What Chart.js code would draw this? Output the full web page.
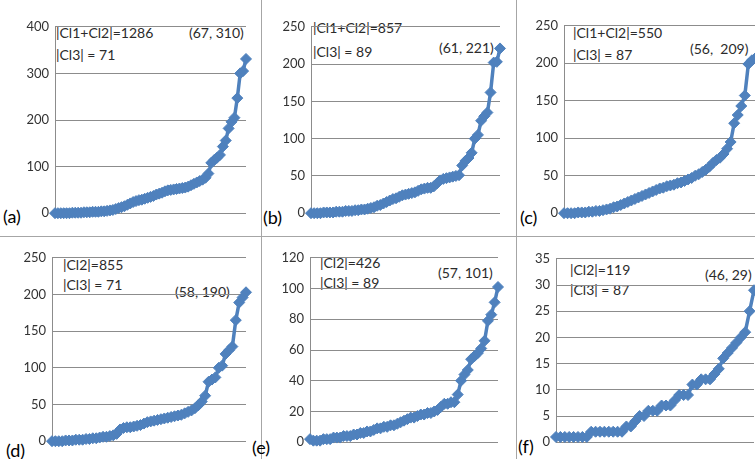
<!DOCTYPE html>
<html>
<head>
<meta charset="utf-8">
<script src="https://cdn.jsdelivr.net/npm/chart.js@4/dist/chart.umd.min.js"></script>
<style>
  html, body { margin: 0; padding: 0; background: #fff; overflow: hidden; }
  body { width: 755px; height: 459px; position: relative; font-family: Lato, "Open Sans", sans-serif; }
  canvas { position: absolute; }
  .note { position: absolute; font-size: 14px; line-height: 16px; color: #2b2b2b; white-space: pre; }
  .tag { position: absolute; font-size: 18px; line-height: 20px; color: #000; }
  .sep { position: absolute; background: #a6a6a6; }
</style>
</head>
<body>
<div class="sep" style="left:261px;top:0;width:1px;height:459px"></div>
<div class="sep" style="left:516px;top:0;width:1px;height:459px"></div>
<div class="sep" style="left:0;top:236px;width:755px;height:1px"></div>

<div class="note" style="left:56px;top:25px">|Cl1+Cl2|=1286</div>
<div class="note" style="left:56px;top:47px">|Cl3| = 71</div>
<div class="note" style="left:189px;top:25px">(67, 310)</div>
<div class="tag" style="left:3px;top:206px">(a)</div>

<div class="note" style="left:313px;top:20px">|Cl1+Cl2|=857</div>
<div class="note" style="left:313px;top:44px">|Cl3| = 89</div>
<div class="note" style="left:439px;top:40px">(61, 221)</div>
<div class="tag" style="left:263px;top:207px">(b)</div>

<div class="note" style="left:573px;top:25px">|Cl1+Cl2|=550</div>
<div class="note" style="left:573px;top:47px">|Cl3| = 87</div>
<div class="note" style="left:690px;top:41px">(56,  209)</div>
<div class="tag" style="left:520px;top:207px">(c)</div>

<div class="note" style="left:63px;top:257px">|Cl2|=855</div>
<div class="note" style="left:63px;top:277px">|Cl3| = 71</div>
<div class="note" style="left:175px;top:284px">(58, 190)</div>
<div class="tag" style="left:6px;top:440px">(d)</div>

<div class="note" style="left:320px;top:255px">|Cl2|=426</div>
<div class="note" style="left:320px;top:275px">|Cl3| = 89</div>
<div class="note" style="left:438px;top:265px">(57, 101)</div>
<div class="tag" style="left:252px;top:437px">(e)</div>

<div class="note" style="left:570px;top:262px">|Cl2|=119</div>
<div class="note" style="left:570px;top:282px">|Cl3| = 87</div>
<div class="note" style="left:705px;top:267px">(46, 29)</div>
<div class="tag" style="left:518px;top:436px">(f)</div>

<script>
// sorted values per panel
const valuesA = [0,0,0,0,0,0,1,1,1,1, 2,2,2,3,3,3,4,4,5,6, 7,9,11,13,15,18,21,24,26,28,
  29,31,33,35,37,40,42,44,47,49, 50,51,52,53,54,55,57,60,63,66, 69,72,76,85,108,114,119,125,143,156,
  182,196,205,247,300,305,331];
const valuesB = [0,0,0,0,1,1,1,1,2,2, 2,3,3,3,4,4,5,5,6,7, 8,10,11,13,15,17,19,20,22,24,
  25,26,27,28,30,32,33,34,34,36, 40,44,46,47,48,49,50,51,
  64,70,74,81,100,105,124,130,135,162,202,203,221];
const valuesC = [0,0,0,0,1,1,1,2,2,3, 3,4,5,6,8,9,11,13,15,17, 19,21,23,25,27,29,31,33,34,36,
  37,38,40,41,43,45,47,50,52,55, 58,62,67,71,74,79,86,95,120,131, 143,157,199,204,207,209];
const valuesD = [0,0,0,0,1,1,1,2,2,2, 3,3,4,4,5,6,6,7,8,10, 16,18,19,19,20,21,22,24,26,27,
  28,29,30,31,32,33,34,35,36,38, 40,42,45,49,54,62,81,84,87,100, 103,119,124,129,165,189,196,203];
const valuesE = [2,1,1,1,2,2,2,3,3,3, 4,4,4,5,5,6,6,7,7,8, 9,9,10,10,11,11,12,13,14,15,
  16,16,17,18,18,19,19,20,21,23, 25,25,26,26,31,40,44,47,54,56, 58,61,66,79,83,91,101];
const valuesF = [1,1,1,1,1,1,1,1,2,2, 2,2,2,2,2,2,3,3,4,5, 5,6,6,6,7,7,7,8,9,9,
  9,11,11,12,12,12,13,14,16,17, 18,19,20,21,25,29];

// y tick labels per panel
const ticksA = [0, 100, 200, 300, 400];
const ticksB = [0, 50, 100, 150, 200, 250];
const ticksC = [0, 50, 100, 150, 200, 250];
const ticksD = [0, 50, 100, 150, 200, 250];
const ticksE = [0, 20, 40, 60, 80, 100, 120];
const ticksF = [0, 5, 10, 15, 20, 25, 30, 35];

const AXIS_W = 45, PAD_T = 10, PAD_B = 10, PAD_R = 10;
const blue = '#4F81BD';
const gridGray = '#8c8c8c';

// plot rectangles: [left, top, right, bottom]
const panels = [
  { values: valuesA, ticks: ticksA, plot: [55, 23, 246, 217] },
  { values: valuesB, ticks: ticksB, plot: [311, 23, 500, 217] },
  { values: valuesC, ticks: ticksC, plot: [564, 22, 759, 217] },
  { values: valuesD, ticks: ticksD, plot: [52, 254, 246, 445] },
  { values: valuesE, ticks: ticksE, plot: [310, 254, 498, 446] },
  { values: valuesF, ticks: ticksF, plot: [556, 255, 754, 446] }
];

panels.forEach(function (p) {
  const [l, t, r, b] = p.plot;
  const canvas = document.createElement('canvas');
  canvas.width = (r - l) + AXIS_W + PAD_R;
  canvas.height = (b - t) + PAD_T + PAD_B;
  canvas.style.left = (l - AXIS_W) + 'px';
  canvas.style.top = (t - PAD_T) + 'px';
  document.body.appendChild(canvas);

  const labels = p.values.map((_, i) => i + 1);
  new Chart(canvas.getContext('2d'), {
    type: 'line',
    data: {
      labels: labels,
      datasets: [{
        data: p.values,
        borderColor: blue,
        backgroundColor: blue,
        borderWidth: 3.5,
        pointStyle: 'rectRot',
        pointRadius: 5.5,
        pointBorderWidth: 1,
        tension: 0,
        clip: false
      }]
    },
    options: {
      responsive: false,
      animation: false,
      devicePixelRatio: 1,
      layout: { padding: { top: PAD_T, bottom: PAD_B, right: PAD_R, left: 0 } },
      plugins: { legend: { display: false }, tooltip: { enabled: false } },
      scales: {
        x: { display: false },
        y: {
          min: p.ticks[0],
          max: p.ticks[p.ticks.length - 1],
          ticks: {
            stepSize: p.ticks[1] - p.ticks[0],
            color: '#333',
            font: { family: 'Lato', size: 13 },
            padding: 6
          },
          grid: { color: gridGray, drawTicks: false, lineWidth: 1 },
          border: { display: true, color: gridGray },
          afterFit: function (s) { s.width = AXIS_W; }
        }
      }
    }
  });
});
</script>
</body>
</html>
